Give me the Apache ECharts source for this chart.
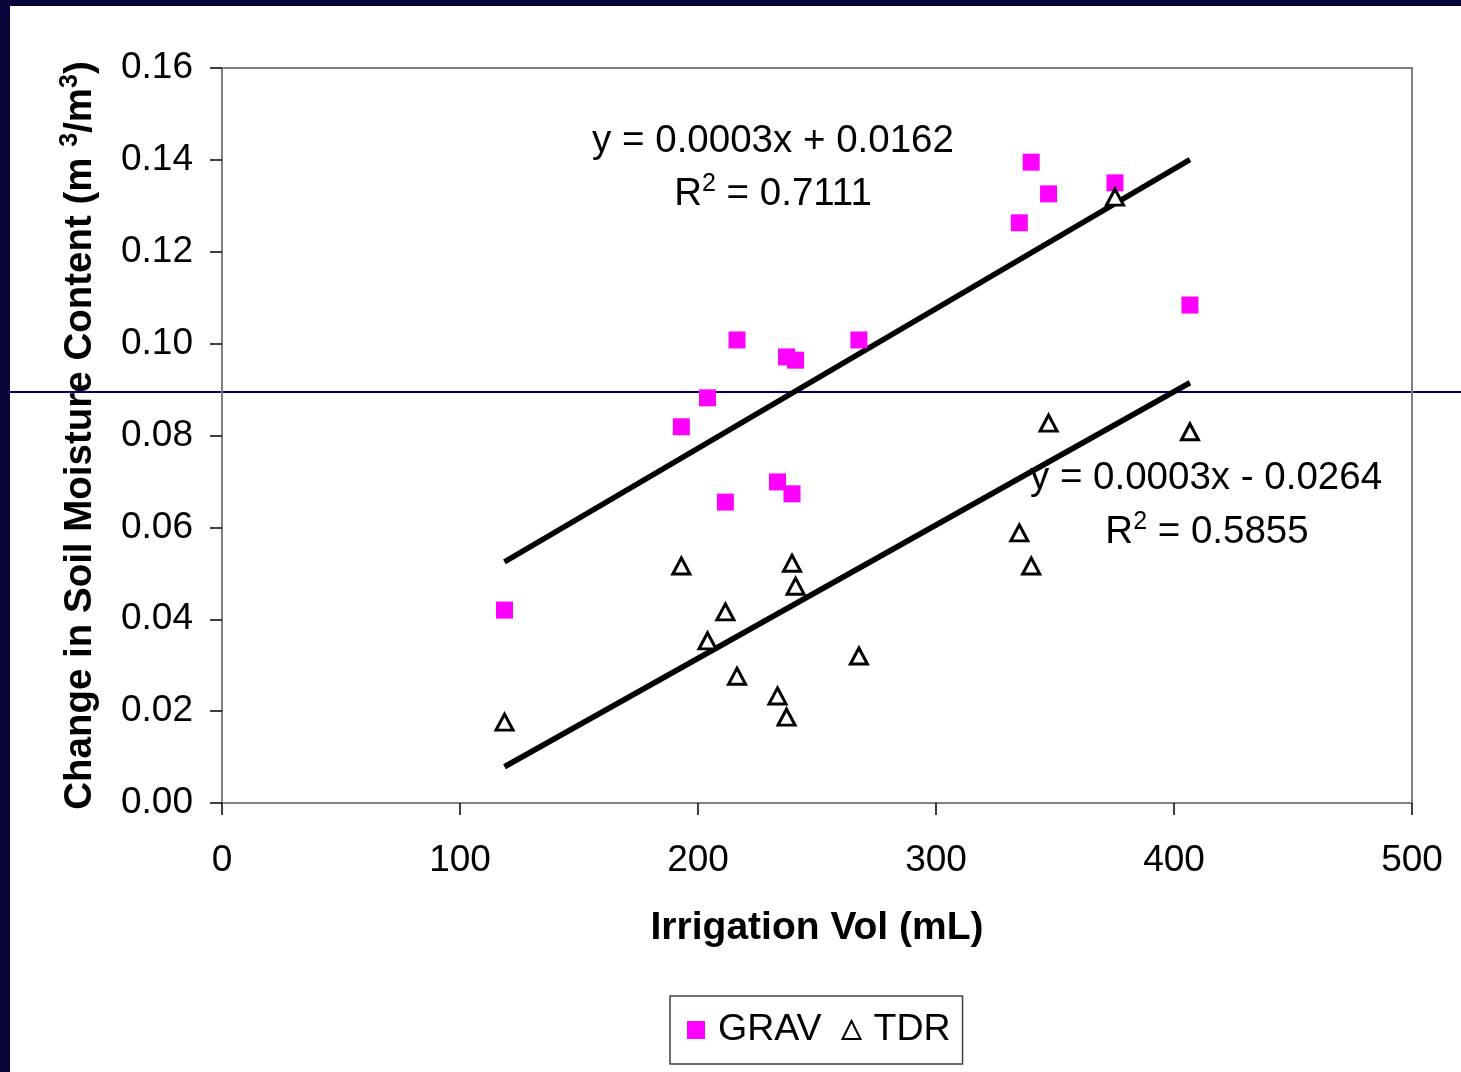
<!DOCTYPE html>
<html>
<head>
<meta charset="utf-8">
<script src="https://cdn.jsdelivr.net/npm/echarts@6/dist/echarts.min.js"></script>
<style>
  html, body { margin: 0; padding: 0; background: #fff; }
  #chart { width: 1461px; height: 1072px; }
</style>
</head>
<body>
<div id="chart"></div>
<script>
// irrigation volume (mL), shared by both series
const irrigation = [118.7, 193, 204, 211.5, 216.4, 233.4, 237.2, 239.5, 241, 267.6, 335, 340, 347.3, 375.2, 406.7]
const grav = [0.0420, 0.0819, 0.0882, 0.0655, 0.1008, 0.0699, 0.0971, 0.0673, 0.0964, 0.1008, 0.1263, 0.1395, 0.1326, 0.1350, 0.1084]
const tdr = [0.0176, 0.0516, 0.0353, 0.0416, 0.0276, 0.0233, 0.0187, 0.0522, 0.0472, 0.0320, 0.0588, 0.0516, 0.0827, 0.1319, 0.0808]
const xTicks = [0, 100, 200, 300, 400, 500]
const yTicks = [0, 0.02, 0.04, 0.06, 0.08, 0.10, 0.12, 0.14, 0.16]

const font = 'Liberation Sans'

// least squares trend line over the data range
function fit(xs, ys) {
  const n = xs.length
  let sx = 0, sy = 0, sxx = 0, sxy = 0
  for (let i = 0; i < n; i++) {
    sx += xs[i]; sy += ys[i]; sxx += xs[i] * xs[i]; sxy += xs[i] * ys[i]
  }
  const b = (n * sxy - sx * sy) / (n * sxx - sx * sx)
  const a = (sy - b * sx) / n
  const x0 = Math.min(...xs), x1 = Math.max(...xs)
  return [[x0, a + b * x0], [x1, a + b * x1]]
}

const pairs = ys => irrigation.map((x, i) => [x, ys[i]])

const supRich = {
  n: { fontSize: 38.5, fontFamily: font, color: '#000', lineHeight: 42, verticalAlign: 'bottom' },
  s: { fontSize: 25, fontFamily: font, color: '#000', lineHeight: 24, verticalAlign: 'top' }
}

const chart = echarts.init(document.getElementById('chart'))
chart.setOption({
  backgroundColor: '#fff',
  animation: false,
  grid: {
    left: 222, right: 49, top: 68, bottom: 269,
    show: true, borderColor: '#808080', borderWidth: 2
  },
  xAxis: {
    type: 'value', min: xTicks[0], max: xTicks[xTicks.length - 1], interval: 100,
    name: 'Irrigation Vol (mL)', nameLocation: 'middle', nameGap: 106,
    nameTextStyle: { fontSize: 39, fontWeight: 'bold', fontFamily: font, color: '#000' },
    axisLine: { lineStyle: { color: '#808080', width: 2 } },
    axisTick: { length: 12, lineStyle: { color: '#000', width: 1.5 } },
    axisLabel: { fontSize: 37, fontFamily: font, color: '#000', margin: 39 },
    splitLine: { show: false }
  },
  yAxis: {
    type: 'value', min: yTicks[0], max: yTicks[yTicks.length - 1], interval: 0.02,
    name: '{b|Change in Soil Moisture Content (m }{bs|3}{b|/m}{bs|3}{b|)}',
    nameLocation: 'middle', nameGap: 122, nameRotate: 90,
    nameTextStyle: {
      rich: {
        b: { fontSize: 38.5, fontWeight: 'bold', fontFamily: font, color: '#000', lineHeight: 42, verticalAlign: 'bottom' },
        bs: { fontSize: 25, fontWeight: 'bold', fontFamily: font, color: '#000', lineHeight: 24, verticalAlign: 'top' }
      }
    },
    axisLine: { lineStyle: { color: '#808080', width: 2 } },
    axisTick: { length: 12, lineStyle: { color: '#000', width: 1.5 } },
    axisLabel: { fontSize: 37, fontFamily: font, color: '#000', margin: 29, formatter: v => v.toFixed(2) },
    splitLine: { show: false }
  },
  legend: {
    data: ['GRAV', 'TDR'],
    left: 670, top: 996,
    padding: [15, 12, 15, 17],
    itemWidth: 18, itemHeight: 18, itemGap: 20,
    borderColor: '#404040', borderWidth: 1.5, backgroundColor: '#fff',
    textStyle: { fontSize: 37.5, fontFamily: font, color: '#000', padding: [0, 0, 0, 8] }
  },
  graphic: [
    { type: 'rect', z: -10, shape: { x: 0, y: 0, width: 10, height: 1072 }, style: { fill: '#05053a' } },
    { type: 'rect', z: -10, shape: { x: 0, y: 0, width: 1461, height: 6 }, style: { fill: '#05053a' } },
    { type: 'rect', z: -10, shape: { x: 10, y: 391, width: 1451, height: 2 }, style: { fill: '#000066' } },
    { type: 'text', x: 773, y: 141, style: { text: 'y = 0.0003x + 0.0162', font: '38.5px "Liberation Sans"', fill: '#000', align: 'center', verticalAlign: 'middle' } },
    { type: 'text', x: 773, y: 193, style: { text: '{n|R}{s|2}{n| = 0.7111}', rich: supRich, align: 'center', verticalAlign: 'middle' } },
    { type: 'text', x: 1206, y: 478, style: { text: 'y = 0.0003x - 0.0264', font: '38.5px "Liberation Sans"', fill: '#000', align: 'center', verticalAlign: 'middle' } },
    { type: 'text', x: 1207, y: 531, style: { text: '{n|R}{s|2}{n| = 0.5855}', rich: supRich, align: 'center', verticalAlign: 'middle' } }
  ],
  series: [
    {
      name: 'GRAV fit', type: 'line', data: fit(irrigation, grav), symbol: 'none',
      lineStyle: { color: '#000', width: 5.5 }, z: 2
    },
    {
      name: 'TDR fit', type: 'line', data: fit(irrigation, tdr), symbol: 'none',
      lineStyle: { color: '#000', width: 5.5 }, z: 2
    },
    {
      name: 'GRAV', type: 'scatter', data: pairs(grav), symbol: 'rect', symbolSize: 17,
      itemStyle: { color: '#ff00ff', opacity: 1 }, z: 3
    },
    {
      name: 'TDR', type: 'scatter', data: pairs(tdr), symbol: 'triangle', symbolSize: [17, 16],
      itemStyle: { color: '#fff', borderColor: '#000', borderWidth: 3, opacity: 1 }, z: 4
    }
  ]
})
</script>
</body>
</html>
